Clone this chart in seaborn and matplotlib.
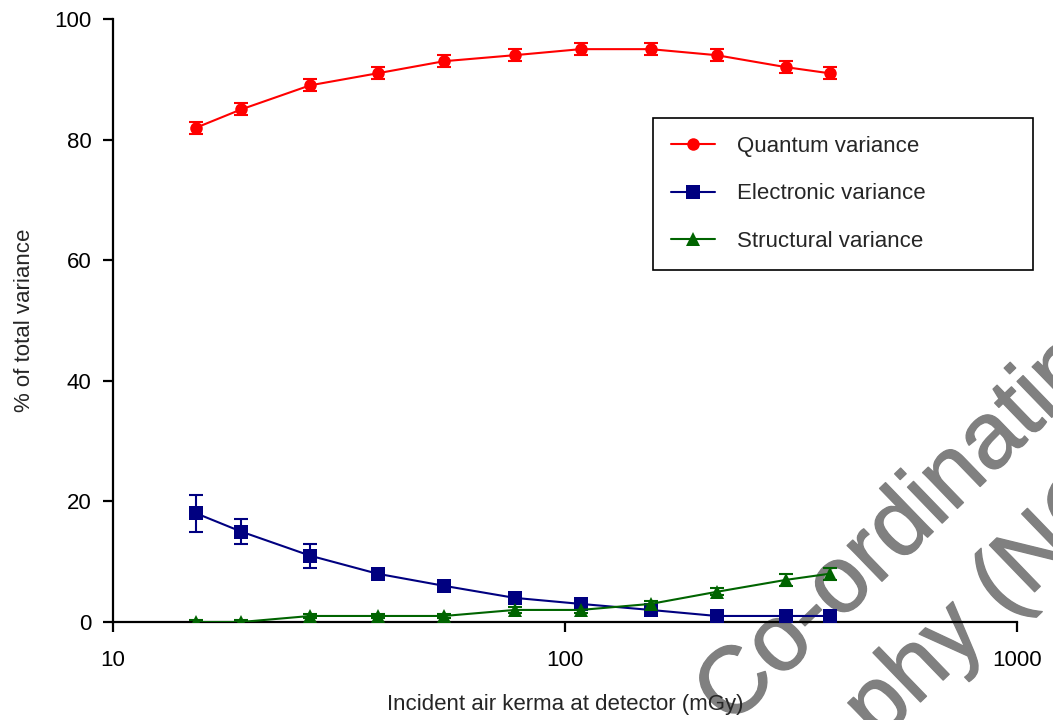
import pandas as pd
import matplotlib
matplotlib.use("Agg")
import matplotlib.pyplot as plt
import matplotlib.patheffects as pe
import seaborn as sns
from matplotlib.ticker import NullLocator

# dose values (mGy)
dose = [15.3, 19.2, 27.3, 38.5, 54.0, 77.4, 108.3, 154.7, 216.4, 309.0, 384.8]

quantum = [82, 85, 89, 91, 93, 94, 95, 95, 94, 92, 91]
quantum_err = [1, 1, 1, 1, 1, 1, 1, 1, 1, 1, 1]
electronic = [18, 15, 11, 8, 6, 4, 3, 2, 1, 1, 1]
electronic_err = [3, 2, 2, 0.5, 0.5, 0.5, 0.5, 0.5, 0.3, 0.3, 0.3]
structural = [0, 0, 1, 1, 1, 2, 2, 3, 5, 7, 8]
structural_err = [0.3, 0.3, 0.3, 0.3, 0.3, 0.5, 0.5, 0.5, 0.6, 1, 1]

series_names = ["Quantum variance", "Electronic variance", "Structural variance"]
x_ticks = [10, 100, 1000]
x_tick_labels = ["10", "100", "1000"]
y_ticks = [0, 20, 40, 60, 80, 100]

sns.set_style("ticks")
plt.rcParams["font.family"] = ["Liberation Sans", "DejaVu Sans"]

W, H = 1053, 720
fig = plt.figure(figsize=(W / 100, H / 100), dpi=100)
ax = fig.add_axes([113 / W, 1 - 622 / H, (1017 - 113) / W, (622 - 19) / H])
ax.patch.set_alpha(0)

styles = [
    (quantum, quantum_err, "#FF0000", "o", 9.0),
    (electronic, electronic_err, "#000080", "s", 9.5),
    (structural, structural_err, "#006400", "^", 10.0),
]

for name, (vals, err, col, mk, ms) in zip(series_names, styles):
    sns.lineplot(x=dose, y=vals, color=col, marker=mk, markersize=ms,
                 markeredgewidth=0, linewidth=1.5, label=name, ax=ax, zorder=3)
    ax.errorbar(dose, vals, yerr=err, fmt="none", ecolor=col, elinewidth=1.5,
                capsize=5, capthick=1.5, zorder=2)

ax.set_xscale("log")
ax.set_xlim(10, 1000)
ax.set_ylim(0, 100)
ax.set_xticks(x_ticks, labels=x_tick_labels)
ax.xaxis.set_minor_locator(NullLocator())
ax.set_yticks(y_ticks)

sns.despine(ax=ax)
for s in ["left", "bottom"]:
    ax.spines[s].set_linewidth(1.6)
    ax.spines[s].set_color("black")
ax.tick_params(axis="both", direction="out", length=7.5, width=1.6,
               labelsize=16, colors="black")
ax.tick_params(axis="x", pad=13)
ax.tick_params(axis="y", pad=8)

ax.set_xlabel("Incident air kerma at detector (mGy)", fontsize=16, labelpad=16)
ax.set_ylabel("% of total variance", fontsize=16, labelpad=14)

leg = ax.legend(loc="upper left", bbox_to_anchor=(653 / W, 1 - 262 / H, 380 / W, 144 / H),
                bbox_transform=fig.transFigure, mode="expand", fontsize=16,
                frameon=True, fancybox=False, edgecolor="black", framealpha=1,
                borderpad=0.8, labelspacing=1.2, handlelength=2.0, handletextpad=1.0,
                borderaxespad=0)
leg.get_frame().set_linewidth(1.2)

# grey watermark across the lower right corner, kept behind the plot
wm = dict(fontsize=68, color="#808080", rotation=44, rotation_mode="anchor",
          ha="left", va="baseline", zorder=-1,
          path_effects=[pe.withStroke(linewidth=1.0, foreground="#808080")])
fig.text(730 / W, 1 - 728 / H, "Co-ordinating Centre", **wm)
fig.text(878 / W, 1 - 743 / H, "phy (NCCPM)", **wm)

fig.savefig("out.png", dpi=100)
